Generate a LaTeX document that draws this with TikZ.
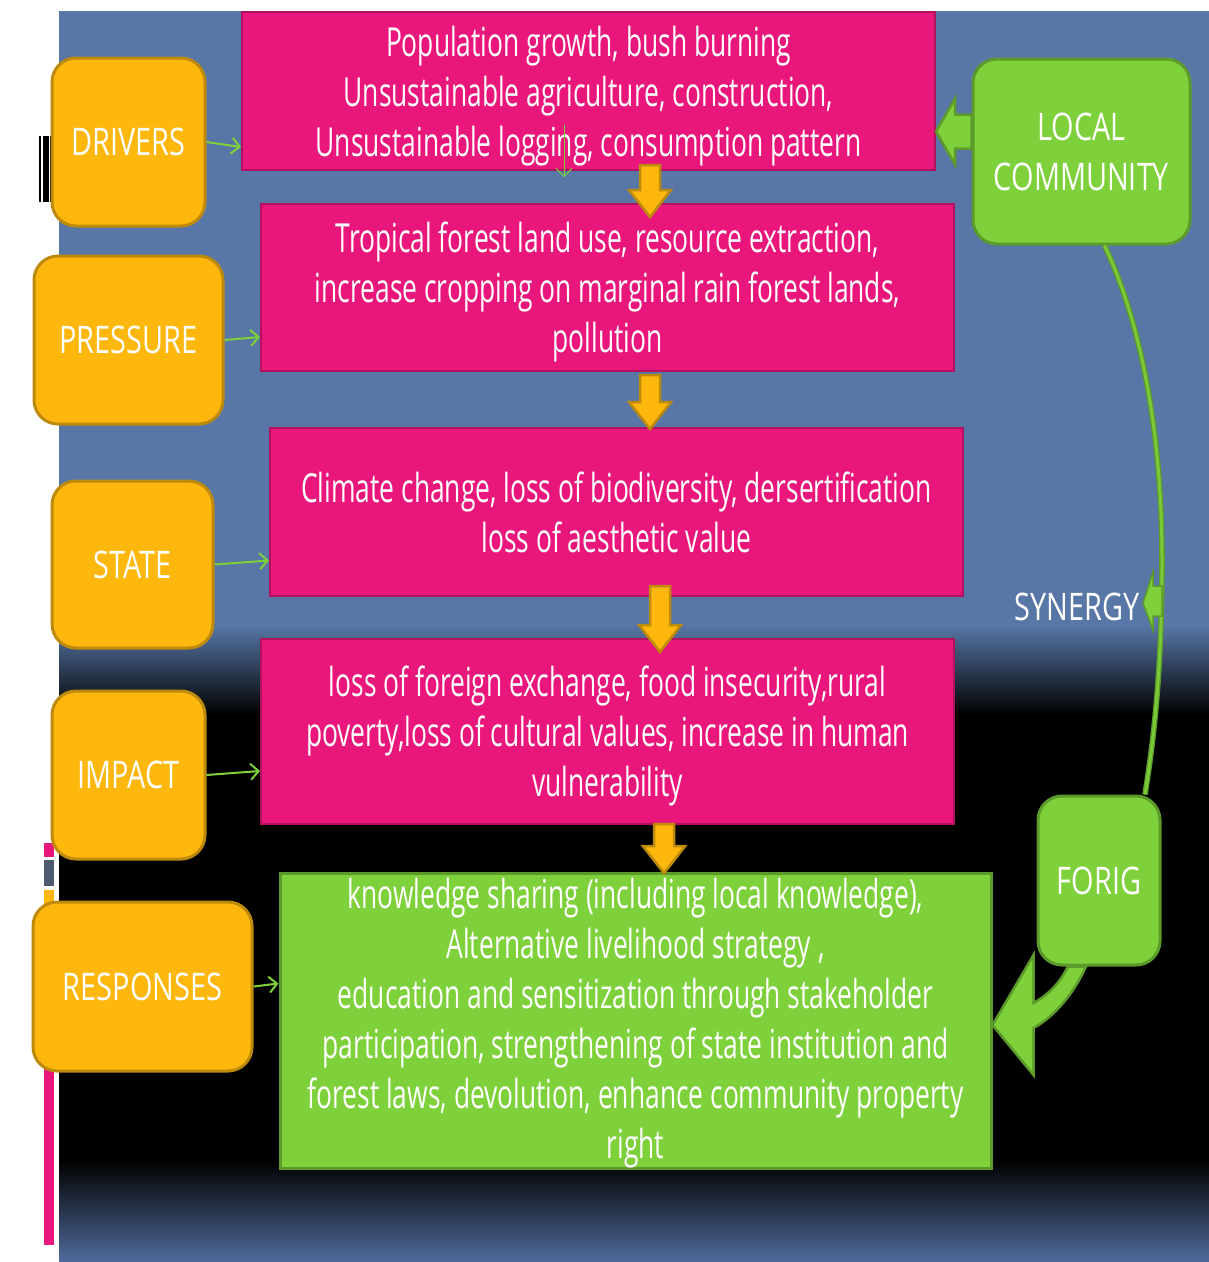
\documentclass[tikz,border=0pt]{standalone}
\usepackage{fontspec}
\setmainfont{Open Sans}
\newfontfamily\bodyfont[FakeStretch=0.66]{Open Sans}
\newfontfamily\labfont[FakeStretch=0.76]{Open Sans}
\usetikzlibrary{positioning,calc}
\usetikzlibrary{arrows.meta}

\definecolor{bgblue}{RGB}{88,119,167}
\definecolor{bottomblue}{RGB}{80,106,156}
\definecolor{pinkfill}{RGB}{233,23,123}
\definecolor{pinkline}{RGB}{176,18,94}
\definecolor{orangefill}{RGB}{253,183,13}
\definecolor{orangeline}{RGB}{190,138,12}
\definecolor{greenfill}{RGB}{126,209,59}
\definecolor{greenline}{RGB}{92,154,42}
\definecolor{markgrey}{RGB}{78,90,110}

\tikzset{
  stagebase/.style={draw=pinkline, line width=2pt, fill=pinkfill, text=white,
    text width=693pt, align=flush center, inner sep=0pt,
    font=\bodyfont\fontsize{40}{50}\selectfont},
  struts/.style 2 args={execute at begin node={\rule{0pt}{#1}},
    execute at end node={\rule[-#2]{0pt}{#2}}},
  stagebox/.style={stagebase, struts={40pt}{10pt}},
  labelbox/.style={draw=orangeline, line width=3pt, fill=orangefill, text=white,
    rounded corners=24pt, align=center, inner sep=0pt,
    font=\labfont\fontsize{38}{50}\selectfont},
  actorbox/.style={labelbox, draw=greenline, fill=greenfill},
  thinarrow/.style={draw=greenfill, line width=2pt,
    -{Straight Barb[length=8pt,width=16pt]}},
  orangeblock/.style={draw=orangeline, line width=2.5pt, fill=orangefill},
  greenblock/.style={draw=greenline, line width=2.5pt, fill=greenfill},
  synergyline/.style={draw=greenline, line width=1.3pt, double=greenfill!85!greenline, double distance=3pt}
}

\begin{document}
\begin{tikzpicture}[x=1pt,y=-1pt]
  % down arrow between two stages
  \newcommand{\downblock}[2]{%
    \draw[orangeblock] let \p1=(#1), \p2=(#2) in
      (\x1-10pt,\y1) -- (\x1+10pt,\y1) -- (\x1+10pt,\y2+27pt) -- (\x1+21pt,\y2+27pt)
      -- (\x1,\y2) -- (\x1-21pt,\y2+27pt) -- (\x1-10pt,\y2+27pt) -- cycle;}

  \useasboundingbox (0,0) rectangle (1209,1262);

  % Background
  \fill[bgblue] (59,11) rectangle (1209,626);
  \shade[top color=bgblue, bottom color=black] (59,625) rectangle (1209,715);
  \fill[black] (59,714) rectangle (1209,1161);
  \shade[top color=black, bottom color=bottomblue] (59,1160) rectangle (1209,1262);

  % Side marks
  \fill[black] (39,136) rectangle (41,202);
  \fill[black] (43,136) rectangle (49,202);
  \fill[black] (50,136) rectangle (52,202);
  \fill[pinkfill] (44,843) rectangle (54,857);
  \fill[markgrey] (44,860) rectangle (54,886);
  \fill[orangefill] (44,890) rectangle (54,960);
  \fill[pinkfill] (44,960) rectangle (54,1245);

  % Stages
  \node[stagebox, minimum height=158pt] (causes) at (588.5,91)
    {Population growth, bush burning\\Unsustainable agriculture, construction,\\Unsustainable logging, consumption pattern};
  \node[stagebox, minimum height=167pt] (pressures) at (607.5,287.5)
    {Tropical forest land use, resource extraction,\\increase cropping on marginal rain forest lands,\\pollution};
  \node[stagebox, minimum height=168pt] (states) at (616.5,512)
    {Climate change, loss of biodiversity, dersertification\\loss of aesthetic value};
  \node[stagebox, minimum height=185pt] (impacts) at (607.5,731.5)
    {loss of foreign exchange, food insecurity,rural\\poverty,loss of cultural values, increase in human\\vulnerability};
  \node[stagebase, struts={35pt}{5pt}, draw=greenline, fill=greenfill, line width=3pt, text width=711pt, minimum height=290pt] (responses) at (635.5,1021)
    {knowledge sharing (including local knowledge),\\Alternative livelihood strategy ,\\education and sensitization through stakeholder\\participation, strengthening of state institution and\\forest laws, devolution, enhance community property\\right};

  % Labels
  \node[labelbox, minimum width=153pt, minimum height=168pt] (drivers) at (128.5,142) {DRIVERS};
  \node[labelbox, minimum width=189pt, minimum height=168pt] (pressure) at (128.5,340) {PRESSURE};
  \node[labelbox, minimum width=161pt, minimum height=167pt] (state) at (132.5,564.5) {STATE};
  \node[labelbox, minimum width=153pt, minimum height=168pt] (impact) at (128.5,775) {IMPACT};
  \node[labelbox, minimum width=219pt, minimum height=169pt] (response) at (142.5,986.5) {RESPONSES};

  \node[actorbox, minimum width=217pt, minimum height=185pt] (local) at (1081.5,151.5) {LOCAL\\COMMUNITY};
  \node[actorbox, minimum width=122pt, minimum height=169pt] (forig) at (1099,880.5) {FORIG};
  \node[text=white, inner sep=0pt, font=\labfont\fontsize{38}{50}\selectfont] (synergy) at (1077,607) {SYNERGY};

  % Label arrows
  \draw[thinarrow] (drivers.east) -- ([yshift=-5pt]drivers.east -| causes.west);
  \draw[thinarrow] (pressure.east) -- ([yshift=3pt]pressure.east -| pressures.west);
  \draw[thinarrow] (state.east) -- ([yshift=4pt]state.east -| states.west);
  \draw[thinarrow] (impact.east) -- ([yshift=4pt]impact.east -| impacts.west);
  \draw[thinarrow] (response.east) -- ([yshift=3pt]response.east -| responses.west);
  \coordinate (stray) at (564,125);
  \draw[thinarrow, line width=1pt] (stray) -- ++(0,52);

  % Stage arrows
  \downblock{$(650,0 |- causes.south)+(0,-6)$}{$(650,0 |- pressures.north)+(0,14)$}
  \downblock{$(650,0 |- pressures.south)+(0,3)$}{$(650,0 |- states.north)+(0,2)$}
  \downblock{$(660,0 |- states.south)+(0,-11)$}{$(660,0 |- impacts.north)+(0,14)$}
  \downblock{$(664,0 |- impacts.south)+(0,-1)$}{$(664,0 |- responses.north)+(0,1)$}

  % Community arrow
  \draw[greenblock] let \p1=([yshift=20pt]local.west), \p2=(causes.east) in
    (\x1,\y1+17pt) -- (\x2+19pt,\y1+17pt) -- (\x2+19pt,\y1+33pt) -- (\x2,\y1)
    -- (\x2+19pt,\y1-33pt) -- (\x2+19pt,\y1-17pt) -- (\x1,\y1-17pt) -- cycle;

  % Synergy
  \draw[synergyline] ([xshift=23pt]local.south) .. controls (1140,320) and (1162,430) .. (1162,560)
    .. controls (1162,680) and (1152,750) .. ([xshift=46pt]forig.north);
  \coordinate (syntip) at (1143,603);
  \draw[greenblock, line width=1.5pt] (syntip) -- ++(10,-31) -- ++(0,14) -- ++(9,0) -- ++(0,30)
    -- ++(-9,0) -- ++(0,14) -- cycle;

  % FORIG arrow
  \draw[greenblock] let \p1=(forig.south), \p2=(responses.east) in
    (\x1-31pt,\y1) .. controls (\x1-41pt,\y1-20pt) and (\x1-54pt,\y1-30pt) .. (\x2+41pt,\y2+18pt)
    -- (\x2+41pt,\y2+66pt) -- (\x2,\y2-4pt) -- (\x2+41pt,\y2-54pt) -- (\x2+41pt,\y2-7pt)
    .. controls (\x1-44pt,\y1-50pt) and (\x1-24pt,\y1-25pt) .. (\x1-13pt,\y1) -- cycle;
\end{tikzpicture}
\end{document}
